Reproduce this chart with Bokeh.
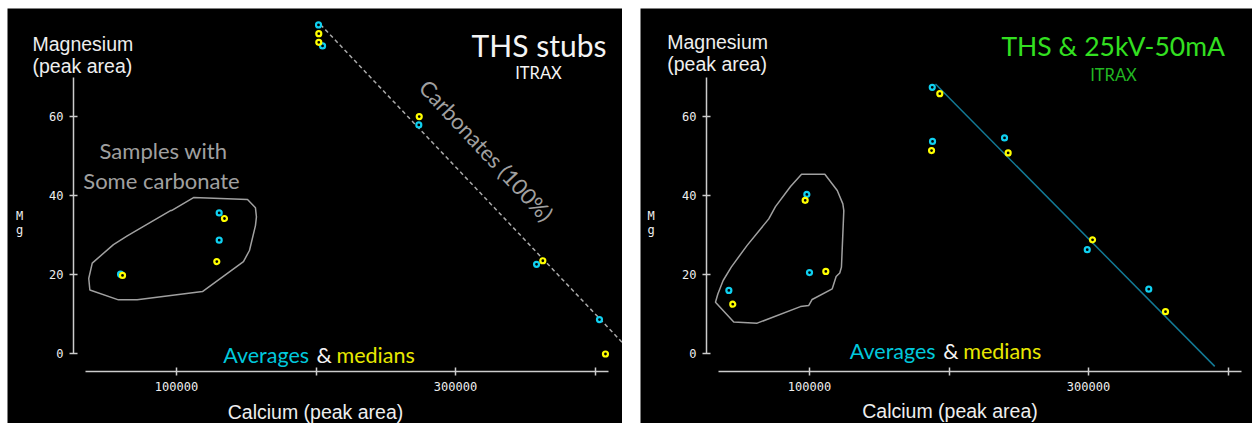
from bokeh.plotting import figure
from bokeh.layouts import row, column
from bokeh.models import Range1d, FixedTicker, Label, Spacer
from bokeh.embed import file_html
from bokeh.resources import INLINE

# ---------------- data ----------------
# Left panel: THS stubs
avg_ca_L = [59900, 130600, 130600, 201800, 204700, 273700, 358100, 403200]
avg_mg_L = [20.2, 35.7, 28.8, 83.3, 78.0, 58.0, 22.7, 8.7]
med_ca_L = [61300, 134400, 128900, 202000, 202000, 274000, 362600, 407500]
med_mg_L = [19.9, 34.3, 23.4, 81.1, 78.9, 60.1, 23.6, 0.0]
line_ca_L = [203200, 432600]
line_mg_L = [83.4, -1.95]
poly_ca_L = [96400, 112200, 150900, 156600, 157300, 156600, 152300, 148000, 118600,
             71800, 58400, 37900, 37100, 39600, 54800, 64700, 95700]
poly_mg_L = [36.3, 39.6, 39.1, 37.0, 34.7, 32.5, 26.2, 23.4, 15.8,
             13.7, 13.7, 16.2, 19.1, 23.0, 27.7, 29.9, 36.3]

# Right panel: THS & 25kV-50mA
avg_ca_R = [42200, 98100, 100000, 188000, 188200, 239800, 299100, 343200]
avg_mg_R = [16.1, 40.4, 20.6, 67.5, 53.8, 54.7, 26.4, 16.4]
med_ca_R = [45000, 96900, 111700, 193400, 187500, 242400, 302900, 355200]
med_mg_R = [12.6, 38.9, 20.9, 65.9, 51.5, 50.9, 28.9, 10.7]
line_ca_R = [190300, 390500]
line_mg_R = [68.35, -3.14]
poly_ca_R = [94300, 111000, 119900, 123900, 124600, 122900, 121700, 119100, 116300,
             101900, 99500, 93500, 62500, 45700, 32600, 34300, 38100, 43900, 55300,
             70800, 75600, 86400]
poly_mg_R = [45.5, 45.5, 41.4, 38.0, 36.3, 22.0, 20.5, 19.6, 16.5, 13.8, 12.3,
             12.0, 7.8, 8.1, 13.1, 15.2, 18.6, 22.0, 27.5, 34.2, 37.3, 42.4]

x_ticks = [100000, 200000, 300000, 400000]
x_tick_labels = {100000: "100000", 200000: "", 300000: "300000", 400000: ""}
y_ticks = [0, 20, 40, 60]

# ---------------- styling ----------------
KX = 0.001395   # px per Ca unit
KY = 3.95       # px per Mg unit
H = 415
X0 = -21147     # Ca value at the left edge of each panel
Y0 = -17.6      # Mg value at the bottom edge of each panel
CYAN = "#10d0f0"
YELLOW = "#ffff00"
SANS = "Liberation Sans"
CAL = "Lato"
MONO = "DejaVu Sans Mono"


def make_panel(width, page_left):
    p = figure(width=width, height=H, output_backend="svg", toolbar_location=None,
               x_range=Range1d(X0, X0 + width / KX),
               y_range=Range1d(Y0, Y0 + H / KY),
               min_border=0, min_border_left=0, min_border_right=0,
               min_border_top=0, min_border_bottom=0,
               background_fill_color="black", border_fill_color="black",
               outline_line_color=None)
    p.grid.visible = False
    for ax in (p.xaxis[0], p.yaxis[0]):
        ax.axis_line_color = "#cccccc"
        ax.axis_line_width = 1.5
        ax.major_tick_line_color = "#cccccc"
        ax.major_tick_line_width = 1.5
        ax.major_tick_in = 4
        ax.major_tick_out = 4
        ax.minor_tick_line_color = None
        ax.major_label_text_color = "#eeeeee"
        ax.major_label_text_font = MONO
        ax.major_label_text_font_size = "12px"
    p.xaxis.ticker = FixedTicker(ticks=x_ticks)
    p.xaxis.major_label_overrides = x_tick_labels
    p.xaxis.bounds = (35000, 410000)
    p.xaxis.major_label_standoff = 6
    p.xaxis.fixed_location = -4.44
    p.yaxis.ticker = FixedTicker(ticks=y_ticks)
    p.yaxis.bounds = (0, 70)
    p.yaxis.major_label_standoff = 6
    p.yaxis.fixed_location = 26165
    p._panel = (page_left, 8 + H)
    return p


def lab(p, px, py, text, size, color, font, align="left", baseline="alphabetic", angle=0.0):
    fl, fb = p._panel
    x = X0 + (px - fl) / KX
    y = Y0 + (fb - py) / KY
    p.add_layout(Label(x=x, y=y, text=text, text_font_size=size, text_color=color,
                       text_font=font, text_align=align, text_baseline=baseline,
                       angle=angle))


def points(p, ac, am, mc, mm):
    p.scatter(ac, am, marker="circle", size=5, fill_color="black",
              line_color=CYAN, line_width=2.2)
    p.scatter(mc, mm, marker="circle", size=5, fill_color="black",
              line_color=YELLOW, line_width=2.2)


# ---------------- left panel ----------------
pL = make_panel(615, 7)
pL.patch(poly_ca_L, poly_mg_L, fill_alpha=0, line_color="#a0a0a0", line_width=1.5)
pL.line(line_ca_L, line_mg_L, line_color="#aaaaaa", line_width=1.5, line_dash="4 3")
points(pL, avg_ca_L, avg_mg_L, med_ca_L, med_mg_L)

lab(pL, 32, 43, "Magnesium", "19.5px", "#eeeeee", SANS)
lab(pL, 32, 65, "(peak area)", "19.5px", "#eeeeee", SANS)
lab(pL, 19, 215, "M", "12px", "#eeeeee", MONO, align="center")
lab(pL, 19, 229, "g", "12px", "#eeeeee", MONO, align="center")
lab(pL, 315, 411, "Calcium (peak area)", "19.5px", "#eeeeee", SANS, align="center")
lab(pL, 163, 150, "Samples with", "22px", "#a0a0a0", CAL, align="center")
lab(pL, 161, 180, "Some carbonate", "22px", "#a0a0a0", CAL, align="center")
lab(pL, 538.5, 44.3, "THS stubs", "30px", "#f4f4f4", CAL, align="center")
lab(pL, 538, 72.7, "ITRAX", "16.5px", "#f4f4f4", CAL, align="center")
lab(pL, 486, 150, "Carbonates (100%)", "22px", "#a0a0a0", CAL, align="center",
    baseline="middle", angle=-0.82)
lab(pL, 222.7, 354.3, "Averages", "21.5px", "#00c8dc", CAL)
lab(pL, 316, 354.3, "&", "21.5px", "#f4f4f4", CAL)
lab(pL, 336, 354.3, "medians", "21.5px", "#e8e800", CAL)

# ---------------- right panel ----------------
pR = make_panel(612, 640)
pR.patch(poly_ca_R, poly_mg_R, fill_alpha=0, line_color="#a0a0a0", line_width=1.5)
pR.line(line_ca_R, line_mg_R, line_color="#137a96", line_width=1.5)
points(pR, avg_ca_R, avg_mg_R, med_ca_R, med_mg_R)

lab(pR, 666.7, 41.7, "Magnesium", "19.5px", "#eeeeee", SANS)
lab(pR, 666.7, 63.3, "(peak area)", "19.5px", "#eeeeee", SANS)
lab(pR, 650.7, 215, "M", "12px", "#eeeeee", MONO, align="center")
lab(pR, 650.7, 229, "g", "12px", "#eeeeee", MONO, align="center")
lab(pR, 949.5, 410, "Calcium (peak area)", "19.5px", "#eeeeee", SANS, align="center")
lab(pR, 1112.7, 45.7, "THS & 25kV-50mA", "26.5px", "#33e020", CAL, align="center")
lab(pR, 1113, 74, "ITRAX", "16.5px", "#22b822", CAL, align="center")
lab(pR, 849.3, 350.7, "Averages", "21.5px", "#00c8dc", CAL)
lab(pR, 942.7, 350.7, "&", "21.5px", "#f4f4f4", CAL)
lab(pR, 962.7, 350.7, "medians", "21.5px", "#e8e800", CAL)

layout = column(Spacer(height=8, width=1252),
                row(Spacer(width=7, height=H), pL, Spacer(width=18, height=H), pR,
                    spacing=0),
                spacing=0)
open("out.html", "w").write(file_html(layout, INLINE))
